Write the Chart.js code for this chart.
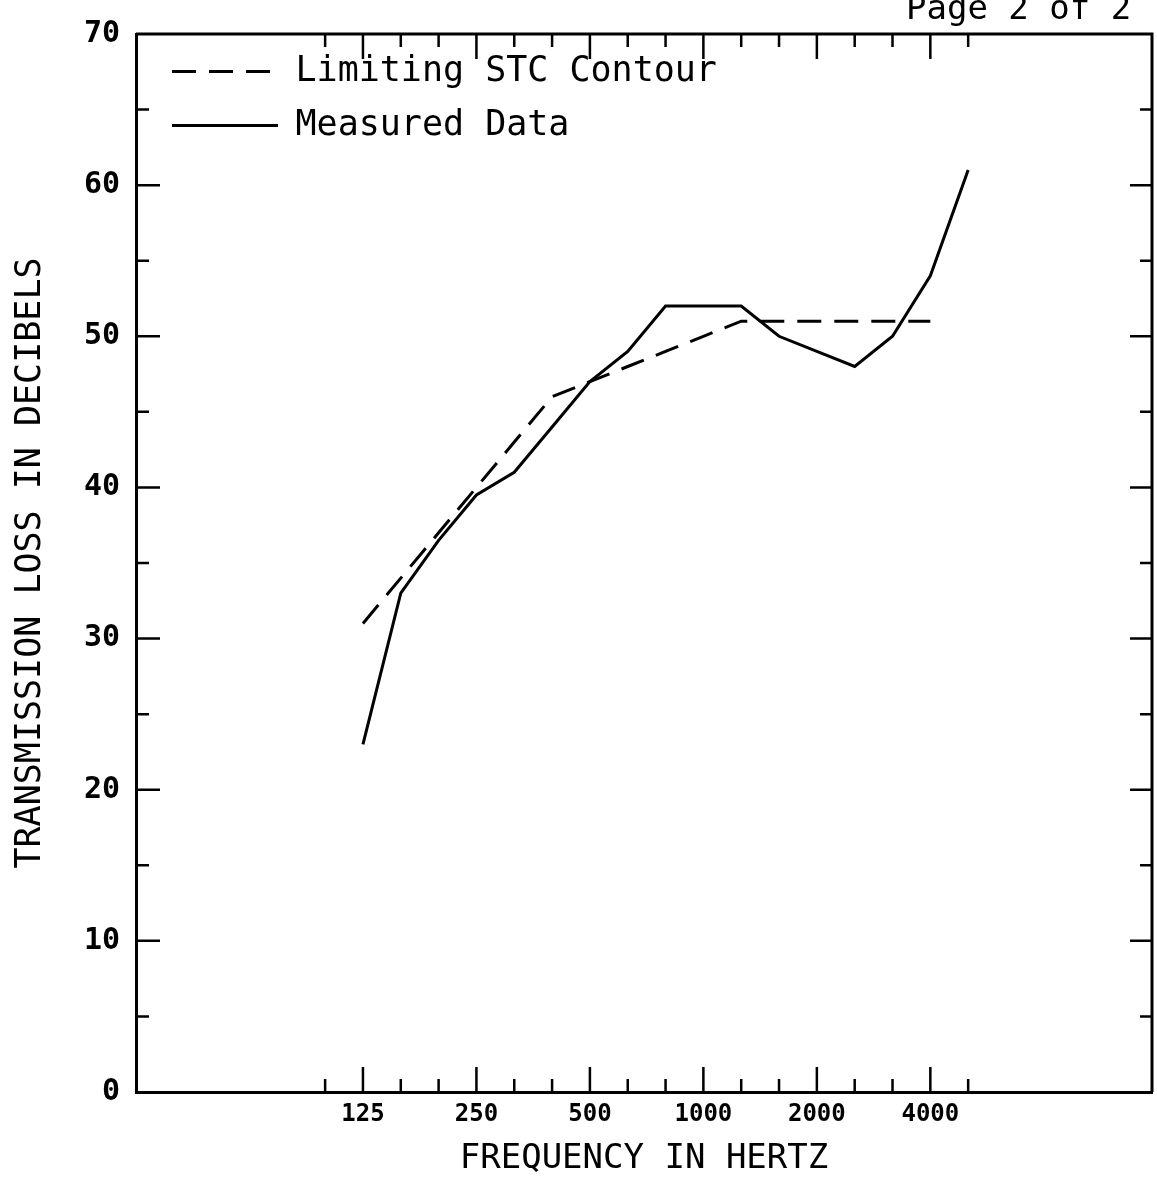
<!DOCTYPE html>
<html>
<head>
<meta charset="utf-8">
<script src="https://cdn.jsdelivr.net/npm/chart.js@4.4.0/dist/chart.umd.min.js"></script>
<style>
  html, body { margin: 0; padding: 0; background: #fff; overflow: hidden; }
  #wrap { position: relative; width: 1157px; height: 1188px; }
  #page { position: absolute; left: 906px; top: -13px; font: 34px 'DejaVu Sans Mono', monospace; color: #000; white-space: pre; }
</style>
</head>
<body>
<div id="wrap">
  <canvas id="stcChart" width="1157" height="1188"></canvas>
  <div id="page">Page 2 of 2</div>
</div>
<script>
// bandas de 1/3 de oitava (a primeira, 100 Hz, só tem marca no eixo)
const axisBands = ['100', '125', '160', '200', '250', '315', '400', '500', '630', '800',
    '1000', '1250', '1600', '2000', '2500', '3150', '4000', '5000'];
const measuredBands = ['125', '160', '200', '250', '315', '400', '500', '630', '800',
    '1000', '1250', '1600', '2000', '2500', '3150', '4000', '5000'];
const measured = [23, 33, 36.5, 39.5, 41, 44, 47, 49, 52, 52, 52, 50, 49, 48, 50, 54, 61];
const stcBands = ['125', '160', '200', '250', '315', '400', '500', '630', '800',
    '1000', '1250', '1600', '2000', '2500', '3150', '4000'];
const stcContour = [31, 34, 37, 40, 43, 46, 47, 48, 49, 50, 51, 51, 51, 51, 51, 51];
const octaveLabels = ['125', '250', '500', '1000', '2000', '4000'];
const yTicks = [0, 10, 20, 30, 40, 50, 60, 70];

const FONT = "'DejaVu Sans Mono', monospace";

function toPoints(labels, values) {
    return labels.map((b, i) => ({ x: axisBands.indexOf(b), y: values[i] }));
}

// moldura superior/direita e marcas internas dos eixos
const frameTicks = {
    id: 'frameTicks',
    afterLayout(chart) {
        const lg = chart.legend;
        if (!lg) return;
        lg.left = chart.chartArea.left + 17;
        lg.top = chart.chartArea.top + 1;
        lg.right = chart.chartArea.right;
        lg.bottom = chart.chartArea.bottom;
    },
    afterDraw(chart) {
        const { ctx, chartArea: a, scales: { x, y } } = chart;
        ctx.save();
        ctx.strokeStyle = '#000';
        ctx.lineWidth = 3;
        ctx.beginPath();
        ctx.moveTo(a.left, a.top);
        ctx.lineTo(a.right, a.top);
        ctx.lineTo(a.right, a.bottom);
        ctx.stroke();

        ctx.lineWidth = 2.5;
        ctx.beginPath();
        axisBands.forEach((b, i) => {
            const px = x.getPixelForValue(i);
            const len = octaveLabels.includes(b) ? 25 : 13;
            ctx.moveTo(px, a.bottom);
            ctx.lineTo(px, a.bottom - len);
            ctx.moveTo(px, a.top);
            ctx.lineTo(px, a.top + len);
        });
        yTicks.forEach((v, i) => {
            if (i > 0 && i < yTicks.length - 1) {
                const py = y.getPixelForValue(v);
                ctx.moveTo(a.left, py);
                ctx.lineTo(a.left + 24, py);
                ctx.moveTo(a.right, py);
                ctx.lineTo(a.right - 22, py);
            }
            if (i < yTicks.length - 1) {
                const pm = y.getPixelForValue((v + yTicks[i + 1]) / 2);
                ctx.moveTo(a.left, pm);
                ctx.lineTo(a.left + 13, pm);
                ctx.moveTo(a.right, pm);
                ctx.lineTo(a.right - 12, pm);
            }
        });
        ctx.stroke();
        ctx.restore();
    }
};

const ctx = document.getElementById('stcChart').getContext('2d');
new Chart(ctx, {
    type: 'line',
    data: {
        datasets: [{
            label: 'Limiting STC Contour',
            data: toPoints(stcBands, stcContour),
            borderColor: '#000',
            backgroundColor: '#000',
            borderWidth: 3,
            borderDash: [24, 13],
            pointRadius: 0,
            tension: 0
        }, {
            label: 'Measured Data',
            data: toPoints(measuredBands, measured),
            borderColor: '#000',
            backgroundColor: '#000',
            borderWidth: 3,
            pointRadius: 0,
            tension: 0
        }]
    },
    options: {
        responsive: false,
        animation: false,
        devicePixelRatio: 1,
        layout: { padding: { top: 22, right: 5, left: 0, bottom: 0 } },
        scales: {
            x: {
                type: 'linear',
                min: -5,
                max: 21.86,
                afterBuildTicks: s => { s.ticks = octaveLabels.map(l => ({ value: axisBands.indexOf(l) })); },
                afterFit: s => { s.height = 96; },
                grid: { display: false, drawTicks: false },
                border: { display: true, color: '#000', width: 3 },
                ticks: {
                    callback: v => axisBands[v],
                    color: '#000',
                    font: { family: FONT, size: 24, weight: 'bold' },
                    padding: 8,
                    maxRotation: 0,
                    autoSkip: false
                },
                title: {
                    display: true,
                    text: 'FREQUENCY IN HERTZ',
                    color: '#000',
                    font: { family: FONT, size: 34 },
                    padding: { top: 0, bottom: 8 }
                }
            },
            y: {
                min: 0,
                max: 70,
                afterBuildTicks: s => { s.ticks = yTicks.map(v => ({ value: v })); },
                afterFit: s => { s.width = 136; },
                grid: { display: false, drawTicks: false },
                border: { display: true, color: '#000', width: 3 },
                ticks: {
                    color: '#000',
                    font: { family: FONT, size: 30, weight: 'bold' },
                    padding: 16
                },
                title: {
                    display: true,
                    text: 'TRANSMISSION LOSS IN DECIBELS',
                    color: '#000',
                    font: { family: FONT, size: 35 },
                    padding: { top: 10, bottom: 0 }
                }
            }
        },
        plugins: {
            legend: {
                position: 'chartArea',
                align: 'start',
                labels: {
                    usePointStyle: true,
                    pointStyle: 'line',
                    pointStyleWidth: 106,
                    color: '#000',
                    font: { family: FONT, size: 35 },
                    padding: 19,
                    // o traço da legenda segue o tracejado do conjunto
                    generateLabels: chart => Chart.defaults.plugins.legend.labels.generateLabels(chart)
                        .map(item => ({ ...item, lineDash: chart.data.datasets[item.datasetIndex].borderDash || [] }))
                }
            },
            tooltip: { enabled: false }
        }
    },
    plugins: [frameTicks]
});
</script>
</body>
</html>
